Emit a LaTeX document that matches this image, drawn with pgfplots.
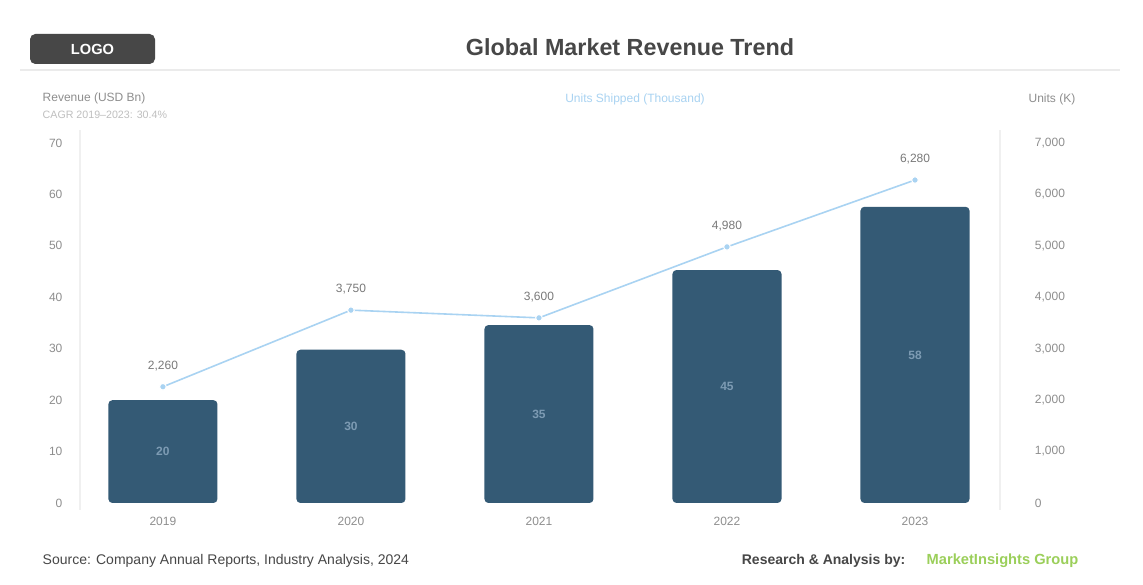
\documentclass[border=0pt]{standalone}
\usepackage{pgfplots}
\pgfplotsset{compat=1.18}
\usepackage{fontspec}
\setmainfont{Liberation Sans}
\definecolor{barblue}{HTML}{345A75}
\definecolor{lineblue}{HTML}{A9D3F2}
\definecolor{ticktxt}{HTML}{8E8E8E}
\definecolor{titlegray}{HTML}{474747}
\definecolor{footgreen}{HTML}{9BCF5A}
\definecolor{barlbl}{HTML}{7D9BB3}

\pgfplotstableread{
x rev half lbl
0 20.0 10.0 20
1 29.8 14.9 30
2 34.6 17.3 35
3 45.3 22.65 45
4 57.6 28.8 58
}\bars
\pgfplotstableread{
x units lbl
0 2260 2,260
1 3750 3,750
2 3600 3,600
3 4980 4,980
4 6280 6,280
}\units

\begin{document}
\begin{tikzpicture}[x=0.75pt,y=0.75pt]
\path[fill=white] (0,0) rectangle (1143,585);
\coordinate (axorigin) at (80,82);
% header
\fill[titlegray, rounded corners=4pt] (30,521) rectangle (155,551);
\node[white, font=\bfseries\fontsize{11}{13}\selectfont] at (92.5,536) {LOGO};
\node[titlegray, font=\bfseries\fontsize{17.5}{20}\selectfont] at (630,538) {Global Market Revenue Trend};
\draw[black!8, line width=0.8pt] (20,515) -- (1120,515);
\node[ticktxt, anchor=west, font=\fontsize{9}{11}\selectfont] at (38,487) {Revenue (USD Bn)};
\node[black!25, anchor=west, font=\fontsize{8}{10}\selectfont] at (38,470) {CAGR 2019--2023: 30.4\%};
\node[lineblue, anchor=center, font=\fontsize{9}{11}\selectfont] at (635,486) {Units Shipped (Thousand)};
\node[ticktxt, anchor=east, font=\fontsize{9}{11}\selectfont] at (1080,486) {Units (K)};
% side frame lines
\draw[black!6, line width=0.8pt] (80,75) -- (80,455);
\draw[black!6, line width=0.8pt] (1000,75) -- (1000,455);

\begin{axis}[at={(axorigin)}, anchor=south west, scale only axis,
  width=690pt, height=270pt,
  xmin=-0.441, xmax=4.452, ymin=0, ymax=70,
  axis line style={draw=none}, major tick length=0pt,
  ytick={0,10,...,70},
  xtick={0,1,2,3,4}, xticklabels={2019,2020,2021,2022,2023},
  ticklabel style={text=ticktxt, font=\fontsize{9}{11}\selectfont},
  yticklabel style={anchor=east, inner sep=0pt, xshift=-13pt},
  xticklabel style={anchor=center, inner sep=0pt, yshift=-14pt},
  /pgf/number format/assume math mode=true,
  clip=false]
\addplot[ybar, bar width=0.58, fill=barblue, draw=none, rounded corners=3pt] table[x=x, y=rev] {\bars};
\addplot[only marks, mark=none, nodes near coords, point meta=explicit symbolic,
  every node near coord/.append style={anchor=center, text=barlbl, font=\bfseries\fontsize{9}{11}\selectfont}]
  table[x=x, y=half, meta=lbl] {\bars};
\end{axis}

\begin{axis}[at={(axorigin)}, anchor=south west, scale only axis,
  width=690pt, height=270pt,
  xmin=-0.441, xmax=4.452, ymin=0, ymax=7000,
  axis y line*=right, axis x line=none,
  axis line style={draw=none}, major tick length=0pt,
  ytick={0,1000,...,7000},
  yticklabel style={text=ticktxt, font=\fontsize{9}{11}\selectfont, anchor=west, inner sep=0pt, xshift=26pt},
  /pgf/number format/.cd, 1000 sep={,}, assume math mode=true, /pgfplots/.cd,
  scaled y ticks=false,
  clip=false]
\addplot[lineblue, line width=1.2pt, mark=*, mark size=2.5pt,
  mark options={fill=lineblue, draw=white, line width=0.8pt},
  nodes near coords, point meta=explicit symbolic,
  every node near coord/.append style={text=ticktxt!85!black, font=\fontsize{9}{11}\selectfont, yshift=8pt}]
  table[x=x, y=units, meta=lbl] {\units};
\end{axis}

% footer
\node[titlegray, anchor=west, font=\fontsize{10.5}{12}\selectfont] at (38,24) {Source: Company Annual Reports, Industry Analysis, 2024};
\node[titlegray, anchor=east, font=\bfseries\fontsize{10.5}{12}\selectfont] at (910,24) {Research \& Analysis by:};
\node[footgreen, anchor=west, font=\bfseries\fontsize{11}{13}\selectfont] at (922,24) {MarketInsights Group};
\end{tikzpicture}
\end{document}
